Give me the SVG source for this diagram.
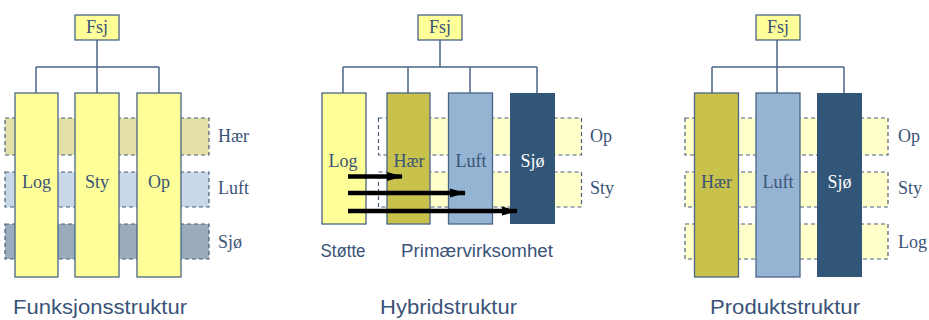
<svg xmlns="http://www.w3.org/2000/svg" width="929" height="320" viewBox="0 0 929 320">
<style>
.serif{font-family:"Liberation Serif","Times New Roman",serif;font-size:18px;fill:#3a5378}
.sans{font-family:"Liberation Sans",Arial,sans-serif;fill:#3a5378}
.title{font-size:20.5px}
.sub{font-size:17.5px}
.col{stroke:#4a6585;stroke-width:1.3}
.yel{fill:#ffff99}
.olive{fill:#c8c14b}
.blue{fill:#95b3d3}
.navy{fill:#325678}
.band{stroke:#4a5e7c;stroke-width:1.2;stroke-dasharray:4 3}
.lband{fill:#ffffcc}
.conn{fill:none;stroke:#4a6585;stroke-width:1.5}
.arr{stroke:#000;stroke-width:4.5;fill:none}
</style>
<defs>
<marker id="ah" markerUnits="userSpaceOnUse" markerWidth="16" markerHeight="10" refX="15" refY="5" orient="auto">
<polygon points="0,0.5 16,5 0,9.5" fill="#000"/>
</marker>
</defs>
<rect width="929" height="320" fill="#fff"/>

<!-- ========== Funksjonsstruktur ========== -->
<g id="f-bands">
<rect class="band" x="5" y="118" width="204" height="37" fill="#e3e0a8"/>
<rect class="band" x="5" y="172" width="204" height="35" fill="#c9d8e8"/>
<rect class="band" x="5" y="224" width="204" height="35" fill="#9aabbe"/>
</g>
<g id="f-connectors">
<path class="conn" d="M97,40 V67 M36,67 H159 M36,67 V93 M97,67 V93 M159,67 V93"/>
</g>
<g id="f-fsj"><rect class="col yel" x="75" y="15" width="44" height="25"/><text class="serif" x="97" y="33" text-anchor="middle">Fsj</text></g>
<g id="f-log"><rect class="col yel" x="15" y="93" width="43" height="184"/><text class="serif" x="36.5" y="188" text-anchor="middle">Log</text></g>
<g id="f-sty"><rect class="col yel" x="75" y="93" width="44" height="184"/><text class="serif" x="97" y="188" text-anchor="middle">Sty</text></g>
<g id="f-op"><rect class="col yel" x="137" y="93" width="44" height="184"/><text class="serif" x="159" y="188" text-anchor="middle">Op</text></g>
<g id="f-labels">
<text class="serif" x="218" y="142">Hær</text>
<text class="serif" x="218" y="194">Luft</text>
<text class="serif" x="218" y="248">Sjø</text>
</g>
<text class="sans title" x="13" y="314" textLength="174" lengthAdjust="spacingAndGlyphs">Funksjonsstruktur</text>

<!-- ========== Hybridstruktur ========== -->
<g id="h-bands">
<rect class="lband" x="387" y="118" width="195" height="37"/>
<rect class="lband" x="387" y="172" width="195" height="35"/>
<rect class="band" x="378.5" y="118" width="203" height="37" fill="none"/>
<rect class="band" x="378.5" y="172" width="203" height="35" fill="none"/>
</g>
<g id="h-connectors">
<path class="conn" d="M440,40 V67 M343,67 H537 M343,67 V93 M408,67 V93 M470,67 V93 M537,67 V93"/>
</g>
<g id="h-fsj"><rect class="col yel" x="418" y="15" width="44" height="25"/><text class="serif" x="440" y="33" text-anchor="middle">Fsj</text></g>
<g id="h-log"><rect class="col yel" x="322" y="93" width="44" height="131"/><text class="serif" x="343" y="167" text-anchor="middle">Log</text></g>
<g id="h-haer"><rect class="col olive" x="387" y="93" width="43" height="131"/><text class="serif" x="409" y="167" text-anchor="middle">Hær</text></g>
<g id="h-luft"><rect class="col blue" x="448.5" y="93" width="44" height="131"/><text class="serif" x="471" y="167" text-anchor="middle">Luft</text></g>
<g id="h-sjo"><rect x="510" y="93" width="45" height="131" fill="#325678"/><text class="serif" x="532.5" y="167" text-anchor="middle" style="fill:#fff">Sjø</text></g>
<g id="h-labels">
<text class="serif" x="590" y="142">Op</text>
<text class="serif" x="590" y="194">Sty</text>
</g>
<g id="h-arrows">
<line class="arr" x1="348" y1="176.5" x2="402" y2="176.5" marker-end="url(#ah)"/>
<line class="arr" x1="348" y1="193" x2="465" y2="193" marker-end="url(#ah)"/>
<line class="arr" x1="348" y1="211" x2="517" y2="211" marker-end="url(#ah)"/>
</g>
<text class="sans sub" x="320.5" y="257" textLength="45" lengthAdjust="spacingAndGlyphs">Støtte</text>
<text class="sans sub" x="401" y="257" textLength="152" lengthAdjust="spacingAndGlyphs">Primærvirksomhet</text>
<text class="sans title" x="380" y="314" textLength="137" lengthAdjust="spacingAndGlyphs">Hybridstruktur</text>

<!-- ========== Produktstruktur ========== -->
<g id="p-bands">
<rect class="band lband" x="685" y="118" width="203" height="37"/>
<rect class="band lband" x="685" y="172" width="203" height="35"/>
<rect class="band lband" x="685" y="224" width="203" height="35"/>
</g>
<g id="p-connectors">
<path class="conn" d="M777,40 V67 M712,67 H844 M712,67 V93 M777,67 V93 M844,67 V93"/>
</g>
<g id="p-fsj"><rect class="col yel" x="756" y="15" width="44" height="25"/><text class="serif" x="778" y="33" text-anchor="middle">Fsj</text></g>
<g id="p-haer"><rect class="col olive" x="694.5" y="93" width="44" height="184"/><text class="serif" x="716.5" y="188" text-anchor="middle">Hær</text></g>
<g id="p-luft"><rect class="col blue" x="756" y="93" width="44" height="184"/><text class="serif" x="778" y="188" text-anchor="middle">Luft</text></g>
<g id="p-sjo"><rect x="817" y="93" width="45" height="184" fill="#325678"/><text class="serif" x="839.5" y="188" text-anchor="middle" style="fill:#fff">Sjø</text></g>
<g id="p-labels">
<text class="serif" x="898" y="142">Op</text>
<text class="serif" x="898" y="194">Sty</text>
<text class="serif" x="898" y="248">Log</text>
</g>
<text class="sans title" x="710" y="314" textLength="150" lengthAdjust="spacingAndGlyphs">Produktstruktur</text>
</svg>
